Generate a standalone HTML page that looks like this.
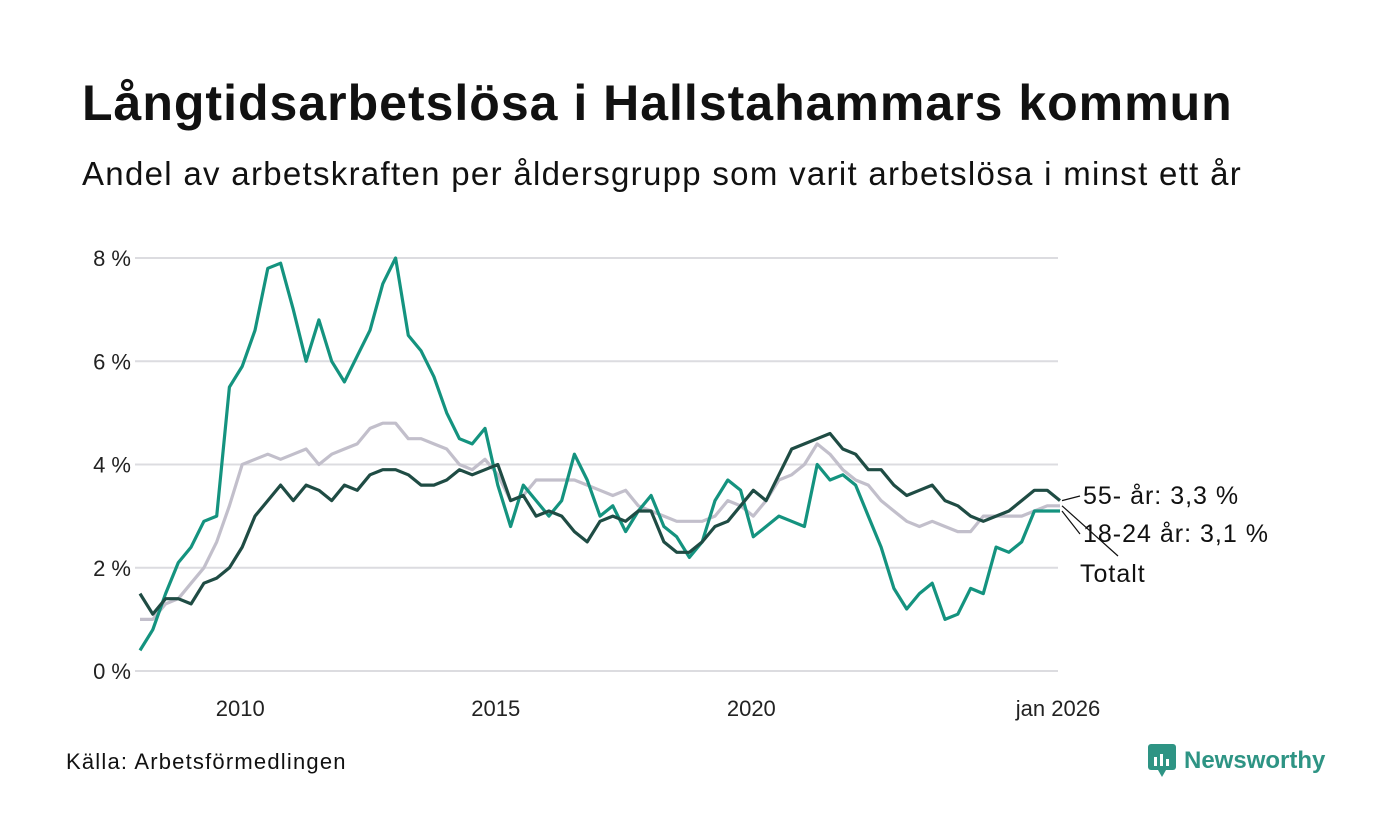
<!DOCTYPE html>
<html><head><meta charset="utf-8"><style>
body{margin:0;background:#fff;font-family:"Liberation Sans",sans-serif;}
#wrap{position:relative;width:1400px;height:840px;overflow:hidden;}
h1{position:absolute;left:82px;top:74px;margin:0;font-size:50px;font-weight:bold;color:#111;letter-spacing:1px}
.sub{position:absolute;left:82px;top:155px;font-size:33px;color:#111;letter-spacing:1.3px}
.src{position:absolute;left:66px;top:749px;font-size:22px;color:#111;letter-spacing:1.2px}
.logo{position:absolute;left:1148px;top:744px;font-size:24px;font-weight:bold;color:#2e9484;display:flex;align-items:center;gap:8px}
</style></head><body><div id="wrap">
<h1>Långtidsarbetslösa i Hallstahammars kommun</h1>
<div class="sub">Andel av arbetskraften per åldersgrupp som varit arbetslösa i minst ett år</div>
<svg id="chart" width="1400" height="840" style="position:absolute;left:0;top:0"></svg>
<div class="src">Källa: Arbetsförmedlingen</div>
<div class="logo"><svg width="28" height="34" viewBox="0 0 28 34"><rect x="0" y="0" width="28" height="26" rx="3" fill="#2e9484"/><polygon points="10,26 18,26 14,33" fill="#2e9484"/><rect x="6" y="13" width="3" height="9" fill="#fff"/><rect x="12" y="10" width="3" height="12" fill="#fff"/><rect x="18" y="15" width="3" height="7" fill="#fff"/></svg><span>Newsworthy</span></div>
</div>
<script>
const yTicks=[0,2,4,6,8];
const xTickYears=[2010,2015,2020];
const xTickLabels=["2010","2015","2020","jan 2026"];
const startYear=2008;
const youth=[0.4,0.8,1.5,2.1, 2.4,2.9,3.0,5.5, 5.9,6.6,7.8,7.9, 7.0,6.0,6.8,6.0, 5.6,6.1,6.6,7.5, 8.0,6.5,6.2,5.7, 5.0,4.5,4.4,4.7, 3.6,2.8,3.6,3.3, 3.0,3.3,4.2,3.7, 3.0,3.2,2.7,3.1, 3.4,2.8,2.6,2.2, 2.5,3.3,3.7,3.5, 2.6,2.8,3.0,2.9, 2.8,4.0,3.7,3.8, 3.6,3.0,2.4,1.6, 1.2,1.5,1.7,1.0, 1.1,1.6,1.5,2.4, 2.3,2.5,3.1,3.1, 3.1];
const total=[1.0,1.0,1.3,1.4, 1.7,2.0,2.5,3.2, 4.0,4.1,4.2,4.1, 4.2,4.3,4.0,4.2, 4.3,4.4,4.7,4.8, 4.8,4.5,4.5,4.4, 4.3,4.0,3.9,4.1, 3.8,3.3,3.4,3.7, 3.7,3.7,3.7,3.6, 3.5,3.4,3.5,3.2, 3.1,3.0,2.9,2.9, 2.9,3.0,3.3,3.2, 3.0,3.3,3.7,3.8, 4.0,4.4,4.2,3.9, 3.7,3.6,3.3,3.1, 2.9,2.8,2.9,2.8, 2.7,2.7,3.0,3.0, 3.0,3.0,3.1,3.2, 3.2];
const older=[1.5,1.1,1.4,1.4, 1.3,1.7,1.8,2.0, 2.4,3.0,3.3,3.6, 3.3,3.6,3.5,3.3, 3.6,3.5,3.8,3.9, 3.9,3.8,3.6,3.6, 3.7,3.9,3.8,3.9, 4.0,3.3,3.4,3.0, 3.1,3.0,2.7,2.5, 2.9,3.0,2.9,3.1, 3.1,2.5,2.3,2.3, 2.5,2.8,2.9,3.2, 3.5,3.3,3.8,4.3, 4.4,4.5,4.6,4.3, 4.2,3.9,3.9,3.6, 3.4,3.5,3.6,3.3, 3.2,3.0,2.9,3.0, 3.1,3.3,3.5,3.5, 3.3];
const NS="http://www.w3.org/2000/svg";
const svg=document.getElementById('chart');
const x0=140,x1=1060,yb=671,yt=258;
const xs=yr=>x0+(yr-startYear)/18*(x1-x0);
const ys=v=>yb-(v/8)*(yb-yt);
const FF='Liberation Sans, sans-serif';
function mk(t,a){const e=document.createElementNS(NS,t);for(const k in a)e.setAttribute(k,a[k]);svg.appendChild(e);return e;}
yTicks.forEach(v=>{
 const l=mk('line',{x1:135,x2:1058,y1:ys(v),y2:ys(v),stroke:'#dcdce0','stroke-width':2});
 
 
 const t=mk('text',{x:131,y:ys(v)+8,'text-anchor':'end','font-size':22,fill:'#222','font-family':FF});
 t.textContent=v+' %';
 
 
});
const tickPos=xTickYears.concat([2026]);
tickPos.forEach((yr,i)=>{
 const t=mk('text',{x:xs(yr)+(i==3?-2:-2),y:716,'text-anchor':'middle','font-size':22,fill:'#222','font-family':FF});
 t.textContent=xTickLabels[i];
 
 
});
function line(arr,color,name){
 const d=arr.map((v,i)=>(i?'L':'M')+xs(startYear+i/4).toFixed(1)+' '+ys(v).toFixed(1)).join(' ');
 const p=mk('path',{d:d,fill:'none',stroke:color,'stroke-width':3.2,'stroke-linejoin':'round'});
 
 
}
line(total,'#c2bfcb','series-totalt');
line(youth,'#14937f','series-18-24');
line(older,'#1f4c44','series-55');
const ex=xs(2026);
function endLabel(v,ly,txt,name){
 const c=mk('line',{x1:ex+2,y1:ys(v),x2:1080,y2:ly-8,stroke:'#111','stroke-width':1.2});
 
 
 const t=mk('text',{x:1083,y:ly,'font-size':25,fill:'#111','font-family':FF,'letter-spacing':1});
 t.textContent=txt;
 
 
}
endLabel(older[older.length-1],504,'55- år: 3,3 %','label-55');
endLabel(youth[youth.length-1],542,'18-24 år: 3,1 %','label-18-24');
const c=mk('line',{x1:ex+2,y1:ys(total[total.length-1]),x2:1118,y2:556,stroke:'#111','stroke-width':1.2});


const t=mk('text',{x:1080,y:582,'font-size':25,fill:'#111','font-family':FF,'letter-spacing':1});
t.textContent='Totalt';


</script></body></html>
